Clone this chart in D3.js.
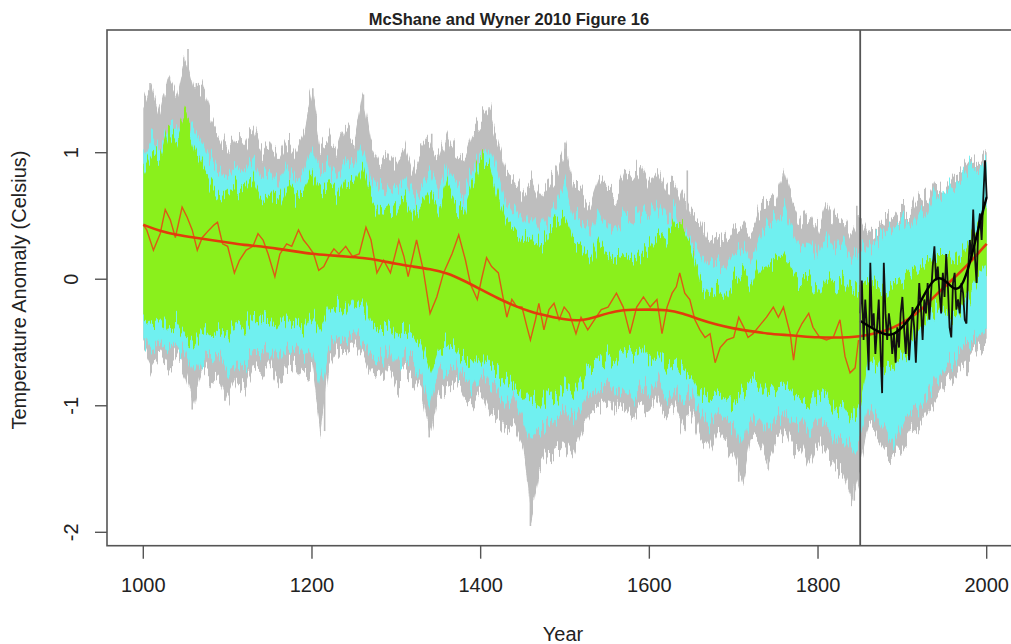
<!DOCTYPE html>
<html>
<head>
<meta charset="utf-8">
<script src="https://cdn.jsdelivr.net/npm/d3@7"></script>
<style>
  body { margin: 0; background: #fff; }
  text { font-family: "Liberation Sans", Arial, sans-serif; fill: #222; }
</style>
</head>
<body>
<svg id="chart" width="1011" height="644"></svg>
<script>
// envelope years (every 10 years, 1000..2000)
const bandYears = d3.range(1000, 2001, 10);

const grayHi = [1.35, 1.55, 1.3, 1.6, 1.45, 1.75, 1.5, 1.55, 1.3, 1.15,
  1.0, 1.15, 1.05, 1.2, 1.0, 1.1, 0.95, 1.1, 1.0, 1.15,
  1.5, 1.05, 1.15, 1.0, 1.2, 1.1, 1.45, 1.05, 0.9, 1.0,
  0.9, 1.05, 0.85, 1.0, 1.1, 0.95, 1.15, 1.0, 0.95, 1.15,
  1.25, 1.35, 1.1, 0.85, 0.8, 0.7, 0.8, 0.65, 0.75, 0.85,
  1.05, 0.75, 0.7, 0.6, 0.8, 0.7, 0.65, 0.85, 0.8, 0.9,
  0.75, 0.85, 0.7, 0.8, 0.65, 0.5, 0.45, 0.3, 0.35, 0.3,
  0.4, 0.45, 0.35, 0.55, 0.6, 0.65, 0.85, 0.6, 0.45, 0.55,
  0.4, 0.6, 0.45, 0.5, 0.35, 0.5, 0.35, 0.4, 0.5, 0.45,
  0.55, 0.5, 0.65, 0.6, 0.75, 0.7, 0.8, 0.85, 0.95, 0.9, 1.0];
const grayLo = [-0.55, -0.7, -0.6, -0.7, -0.6, -0.75, -1.0, -0.7, -0.8, -0.75,
  -0.95, -0.8, -0.85, -0.7, -0.75, -0.65, -0.8, -0.7, -0.65, -0.75,
  -0.7, -1.2, -0.7, -0.55, -0.6, -0.5, -0.6, -0.75, -0.8, -0.7,
  -0.85, -0.75, -0.8, -0.9, -1.25, -0.9, -0.85, -0.8, -0.95, -1.0,
  -0.9, -1.05, -1.1, -1.2, -1.15, -1.3, -1.9, -1.5, -1.4, -1.35,
  -1.3, -1.4, -1.2, -1.05, -1.0, -0.95, -1.05, -1.0, -1.1, -1.0,
  -1.05, -0.95, -1.1, -1.0, -1.15, -1.05, -1.25, -1.35, -1.2, -1.3,
  -1.4, -1.6, -1.25, -1.3, -1.45, -1.3, -1.2, -1.35, -1.3, -1.45,
  -1.3, -1.4, -1.5, -1.55, -1.75, -1.5, -1.15, -1.25, -1.35, -1.4,
  -1.3, -1.2, -1.15, -1.05, -0.95, -0.85, -0.8, -0.7, -0.65, -0.55, -0.5];
const cyanHi = [1.0, 1.1, 1.0, 1.2, 1.15, 1.3, 1.2, 1.1, 0.95, 0.85,
  0.8, 0.9, 0.85, 0.95, 0.8, 0.85, 0.75, 0.9, 0.8, 0.85,
  1.05, 0.85, 0.9, 0.8, 0.95, 0.9, 1.05, 0.8, 0.7, 0.75,
  0.7, 0.8, 0.65, 0.75, 0.85, 0.7, 0.9, 0.75, 0.7, 0.85,
  1.0, 1.05, 0.85, 0.6, 0.55, 0.45, 0.55, 0.4, 0.5, 0.6,
  0.75, 0.5, 0.45, 0.35, 0.55, 0.45, 0.4, 0.5, 0.45, 0.55,
  0.5, 0.6, 0.45, 0.55, 0.4, 0.3, 0.2, 0.1, 0.15, 0.1,
  0.2, 0.25, 0.15, 0.3, 0.4, 0.45, 0.55, 0.35, 0.25, 0.3,
  0.2, 0.35, 0.25, 0.3, 0.15, 0.25, 0.25, 0.3, 0.4, 0.45,
  0.45, 0.4, 0.55, 0.5, 0.7, 0.65, 0.75, 0.8, 0.9, 0.85, 0.95];
const cyanLo = [-0.45, -0.55, -0.5, -0.55, -0.5, -0.6, -0.75, -0.6, -0.65, -0.6,
  -0.75, -0.65, -0.7, -0.6, -0.6, -0.55, -0.65, -0.55, -0.55, -0.6,
  -0.55, -0.85, -0.55, -0.45, -0.5, -0.4, -0.5, -0.6, -0.65, -0.55,
  -0.7, -0.6, -0.65, -0.75, -1.0, -0.75, -0.7, -0.65, -0.8, -0.85,
  -0.75, -0.85, -0.9, -1.0, -0.95, -1.1, -1.25, -1.2, -1.15, -1.1,
  -1.05, -1.1, -1.0, -0.9, -0.85, -0.8, -0.9, -0.85, -0.95, -0.85,
  -0.9, -0.8, -0.95, -0.85, -0.95, -0.9, -1.05, -1.15, -1.05, -1.1,
  -1.15, -1.3, -1.1, -1.1, -1.2, -1.1, -1.05, -1.15, -1.1, -1.2,
  -1.1, -1.15, -1.25, -1.25, -1.35, -1.25, -1.0, -1.1, -1.2, -1.3,
  -1.15, -1.05, -1.0, -0.9, -0.8, -0.7, -0.65, -0.55, -0.5, -0.45, -0.4];
const greenHi = [0.85, 1.0, 0.95, 1.2, 1.1, 1.3, 1.05, 0.9, 0.75, 0.65,
  0.7, 0.75, 0.7, 0.8, 0.65, 0.7, 0.6, 0.75, 0.65, 0.7,
  0.85, 0.7, 0.75, 0.65, 0.8, 0.75, 0.9, 0.65, 0.55, 0.6,
  0.55, 0.65, 0.5, 0.6, 0.7, 0.55, 0.75, 0.6, 0.55, 0.75,
  0.95, 0.9, 0.65, 0.45, 0.4, 0.3, 0.35, 0.25, 0.35, 0.45,
  0.5, 0.3, 0.25, 0.15, 0.3, 0.2, 0.15, 0.2, 0.15, 0.2,
  0.25, 0.35, 0.3, 0.45, 0.4, 0.25, 0.0, -0.1, -0.05, -0.1,
  0.0, 0.05, -0.05, 0.1, 0.1, 0.15, 0.2, 0.05, -0.05, 0.0,
  -0.1, 0.0, -0.05, 0.0, -0.1, -0.05, 0.0, -0.05, -0.1, -0.05,
  0.0, 0.05, 0.1, 0.15, 0.2, 0.2, 0.15, 0.2, 0.3, 0.45, 0.6];
const greenLo = [-0.3, -0.35, -0.3, -0.4, -0.35, -0.45, -0.5, -0.4, -0.45, -0.4,
  -0.45, -0.35, -0.4, -0.3, -0.35, -0.3, -0.4, -0.3, -0.35, -0.4,
  -0.3, -0.4, -0.25, -0.2, -0.25, -0.15, -0.2, -0.35, -0.4, -0.35,
  -0.45, -0.4, -0.45, -0.55, -0.75, -0.55, -0.5, -0.55, -0.65, -0.7,
  -0.6, -0.7, -0.75, -0.8, -0.85, -0.9, -0.95, -1.0, -0.9, -0.95,
  -0.85, -0.9, -0.8, -0.7, -0.65, -0.6, -0.65, -0.55, -0.6, -0.55,
  -0.65, -0.6, -0.7, -0.65, -0.7, -0.75, -0.9, -0.95, -0.9, -0.95,
  -1.0, -0.9, -0.85, -0.8, -0.9, -0.85, -0.8, -0.9, -0.95, -1.0,
  -0.9, -0.95, -1.05, -1.0, -1.1, -1.0, -0.6, -0.65, -0.7, -0.7,
  -0.6, -0.5, -0.4, -0.3, -0.25, -0.25, -0.3, -0.25, -0.15, 0.0, 0.1];

// single-year extremes of the gray ensemble
const grayPeakYears = [1008, 1031, 1053, 1063, 1201, 1261, 1342, 1410, 1500, 1645, 1759, 1846];
const grayPeakValues = [1.55, 1.6, 1.82, 1.55, 1.51, 1.46, 1.15, 1.36, 1.08, 0.86, 0.84, 0.58];
const grayDipYears = [1058, 1097, 1215, 1339, 1456, 1459, 1462, 1706, 1741, 1843];
const grayDipValues = [-1.03, -0.96, -1.2, -1.25, -1.6, -1.95, -1.7, -1.6, -1.5, -1.75];

// reconstruction (red, wiggly)
const reconYears = [1000, 1004, 1012, 1020, 1026, 1032, 1038, 1046, 1052, 1058,
  1064, 1070, 1078, 1084, 1088, 1094, 1100, 1108, 1114, 1122,
  1130, 1136, 1142, 1148, 1156, 1162, 1170, 1176, 1184, 1190,
  1196, 1202, 1208, 1214, 1220, 1226, 1232, 1240, 1248, 1256,
  1264, 1270, 1277, 1285, 1293, 1303, 1309, 1314, 1324, 1332,
  1340, 1348, 1356, 1366, 1374, 1382, 1388, 1396, 1401, 1407,
  1413, 1421, 1427, 1431, 1437, 1443, 1449, 1455, 1459, 1465,
  1469, 1475, 1481, 1487, 1493, 1499, 1505, 1513, 1519, 1527,
  1535, 1543, 1551, 1561, 1569, 1577, 1585, 1593, 1601, 1609,
  1615, 1621, 1627, 1632, 1636, 1642, 1648, 1654, 1660, 1666,
  1672, 1678, 1684, 1692, 1700, 1706, 1712, 1717, 1723, 1729,
  1739, 1747, 1753, 1759, 1767, 1771, 1775, 1781, 1789, 1794,
  1802, 1810, 1818, 1826, 1832, 1838, 1844, 1848];
const reconValues = [0.43, 0.39, 0.23, 0.36, 0.55, 0.47, 0.33, 0.57, 0.49, 0.39,
  0.23, 0.33, 0.39, 0.43, 0.45, 0.28, 0.26, 0.05, 0.15, 0.23,
  0.26, 0.36, 0.31, 0.2, 0.02, 0.2, 0.28, 0.26, 0.39, 0.31,
  0.26, 0.2, 0.07, 0.1, 0.18, 0.24, 0.2, 0.26, 0.18, 0.2,
  0.41, 0.31, 0.05, 0.15, 0.05, 0.31, 0.18, 0.02, 0.31, 0.07,
  -0.27, -0.14, 0.05, 0.2, 0.35, 0.15, -0.04, -0.16, 0.0, 0.17,
  0.1, 0.05, -0.16, -0.3, -0.16, -0.22, -0.22, -0.38, -0.48, -0.32,
  -0.19, -0.4, -0.24, -0.19, -0.32, -0.22, -0.27, -0.43, -0.3, -0.4,
  -0.32, -0.24, -0.22, -0.11, -0.22, -0.43, -0.22, -0.14, -0.22, -0.16,
  -0.43, -0.22, -0.11, -0.06, 0.05, -0.11, -0.16, -0.32, -0.4, -0.46,
  -0.43, -0.66, -0.54, -0.48, -0.46, -0.3, -0.38, -0.46, -0.43, -0.38,
  -0.3, -0.22, -0.3, -0.22, -0.43, -0.64, -0.43, -0.35, -0.27, -0.38,
  -0.46, -0.48, -0.46, -0.32, -0.61, -0.74, -0.7, -0.48];

// smoothed reconstruction (red, thick)
const smoothYears = d3.range(1000, 2001, 20);
const smoothValues = [0.43, 0.38, 0.35, 0.33, 0.31, 0.29, 0.27, 0.26, 0.24, 0.22,
  0.2, 0.19, 0.18, 0.17, 0.15, 0.12, 0.1, 0.08, 0.05, -0.01,
  -0.08, -0.15, -0.21, -0.26, -0.29, -0.32, -0.33, -0.29, -0.25, -0.24,
  -0.24, -0.24, -0.27, -0.32, -0.36, -0.39, -0.41, -0.43, -0.44, -0.45,
  -0.46, -0.46, -0.46, -0.44, -0.41, -0.35, -0.26, -0.12, 0.0, 0.13, 0.28];

// instrumental record (black)
const instYears = d3.range(1850, 2001, 2);
const instValues = [-0.27, -0.01, -0.48, -0.16, -0.38, -0.72, 0.13, -0.38, -0.27, -0.59,
  -0.38, -0.16, -0.54, -0.9, 0.13, -0.27, -0.48, -0.27, -0.38, -0.59,
  -0.43, -0.66, -0.38, -0.54, -0.27, -0.14, -0.38, -0.59, -0.32, -0.64,
  -0.43, -0.22, -0.38, -0.66, -0.32, -0.03, -0.22, -0.48, -0.16, -0.27,
  -0.03, -0.32, -0.11, 0.1, 0.26, -0.01, 0.1, -0.11, -0.27, 0.05,
  -0.14, 0.2, -0.06, -0.38, -0.46, -0.03, 0.05, -0.24, -0.16, -0.27,
  -0.03, -0.11, -0.32, -0.35, 0.07, 0.31, 0.15, 0.55, 0.18, -0.03,
  0.41, 0.52, 0.31, 0.65, 0.94, 0.65];
const instSmoothYears = d3.range(1850, 2001, 10);
const instSmoothValues = [-0.33, -0.37, -0.41, -0.44, -0.44, -0.38, -0.3, -0.2, -0.07, 0.02,
  0.0, -0.08, -0.08, 0.12, 0.4, 0.65];

const yTicks = [-2, -1, 0, 1];
const xTicks = [1000, 1200, 1400, 1600, 1800, 2000];

function roughen(defs, id, seed) {
  // year-to-year jitter of the ensemble edges: fast noise along x, moves pixels in y only
  const f = defs.append("filter")
    .attr("id", id)
    .attr("x", "-5%").attr("y", "-20%")
    .attr("width", "110%").attr("height", "140%");
  f.append("feTurbulence")
    .attr("type", "fractalNoise")
    .attr("baseFrequency", "0.45 0.012")
    .attr("numOctaves", 2)
    .attr("seed", seed)
    .attr("result", "noise");
  f.append("feColorMatrix")
    .attr("in", "noise")
    .attr("type", "matrix")
    .attr("values", "0 0 0 0 0.5  0 1 0 0 0  0 0 1 0 0  0 0 0 0 1")
    .attr("result", "shift");
  f.append("feDisplacementMap")
    .attr("in", "SourceGraphic")
    .attr("in2", "shift")
    .attr("scale", 42)
    .attr("xChannelSelector", "R")
    .attr("yChannelSelector", "G");
}

function draw() {
  const svg = d3.select("#chart");
  const left = 107, top = 30, bottom = 545.7, right = 1019;

  const x = d3.scaleLinear().domain([1000, 2000]).range([143.3, 986.7]);
  const y = d3.scaleLinear().domain([-2, 1]).range([532.3, 152.7]);

  const defs = svg.append("defs");
  roughen(defs, "rough1", 3);
  roughen(defs, "rough2", 11);
  roughen(defs, "rough3", 27);

  const zip = (xs, ys) => xs.map((d, i) => [d, ys[i]]);
  const band = (hi, lo) =>
    d3.area()
      .x((d, i) => x(bandYears[i]))
      .y0((d, i) => y(lo[i]))
      .y1((d, i) => y(hi[i]))(bandYears);

  // gray spikes
  svg.selectAll("line.peak")
    .data(zip(grayPeakYears, grayPeakValues).concat(zip(grayDipYears, grayDipValues)))
    .join("line")
    .attr("class", "peak")
    .attr("x1", (d) => x(d[0]))
    .attr("x2", (d) => x(d[0]))
    .attr("y1", y(0))
    .attr("y2", (d) => y(d[1]))
    .attr("stroke", "#bdbdbd")
    .attr("stroke-width", 1.6);

  svg.append("path").attr("d", band(grayHi, grayLo)).attr("fill", "#bebebe")
    .attr("filter", "url(#rough1)");
  svg.append("path").attr("d", band(cyanHi, cyanLo)).attr("fill", "#6ff0f0")
    .attr("filter", "url(#rough2)");
  svg.append("path").attr("d", band(greenHi, greenLo)).attr("fill", "#8af01e")
    .attr("filter", "url(#rough3)");

  const line = d3.line().x((d) => x(d[0])).y((d) => y(d[1]));

  svg.append("path")
    .attr("d", line(zip(reconYears, reconValues)))
    .attr("fill", "none")
    .attr("stroke", "#dd5a14")
    .attr("stroke-width", 1.4);

  svg.append("path")
    .attr("d", line.curve(d3.curveBasis)(zip(smoothYears, smoothValues)))
    .attr("fill", "none")
    .attr("stroke", "#e23c0c")
    .attr("stroke-width", 2.6);

  line.curve(d3.curveLinear);
  svg.append("path")
    .attr("d", line(zip(instYears, instValues)))
    .attr("fill", "none")
    .attr("stroke", "#111")
    .attr("stroke-width", 1.8);

  svg.append("path")
    .attr("d", line.curve(d3.curveBasis)(zip(instSmoothYears, instSmoothValues)))
    .attr("fill", "none")
    .attr("stroke", "#000")
    .attr("stroke-width", 2.4);

  // 1850 divider
  svg.append("line")
    .attr("x1", x(1850)).attr("x2", x(1850))
    .attr("y1", top).attr("y2", bottom)
    .attr("stroke", "#555")
    .attr("stroke-width", 1.8);

  // box
  svg.append("rect")
    .attr("x", left).attr("y", top)
    .attr("width", right - left).attr("height", bottom - top)
    .attr("fill", "none")
    .attr("stroke", "#555")
    .attr("stroke-width", 1.6);

  // x axis
  const xg = svg.append("g");
  xg.selectAll("line")
    .data(xTicks)
    .join("line")
    .attr("x1", (d) => x(d)).attr("x2", (d) => x(d))
    .attr("y1", bottom).attr("y2", bottom + 13)
    .attr("stroke", "#555").attr("stroke-width", 1.4);
  xg.selectAll("text")
    .data(xTicks)
    .join("text")
    .attr("x", (d) => x(d))
    .attr("y", 592)
    .attr("text-anchor", "middle")
    .style("font-size", "20px")
    .text((d) => d);

  // y axis
  const yg = svg.append("g");
  yg.selectAll("line")
    .data(yTicks)
    .join("line")
    .attr("x1", left - 12).attr("x2", left)
    .attr("y1", (d) => y(d)).attr("y2", (d) => y(d))
    .attr("stroke", "#555").attr("stroke-width", 1.4);
  yg.selectAll("text")
    .data(yTicks)
    .join("text")
    .attr("transform", (d) => `translate(78,${y(d)}) rotate(-90)`)
    .attr("text-anchor", "middle")
    .style("font-size", "20px")
    .text((d) => (d < 0 ? "-" + Math.abs(d) : d));

  svg.append("text")
    .attr("x", 509).attr("y", 25)
    .attr("text-anchor", "middle")
    .style("font-size", "16.5px")
    .style("font-weight", "bold")
    .text("McShane and Wyner 2010 Figure 16");

  svg.append("text")
    .attr("x", 563).attr("y", 641)
    .attr("text-anchor", "middle")
    .style("font-size", "20px")
    .text("Year");

  svg.append("text")
    .attr("transform", "translate(26,290) rotate(-90)")
    .attr("text-anchor", "middle")
    .style("font-size", "20px")
    .text("Temperature Anomaly (Celsius)");
}

draw();
</script>
</body>
</html>
